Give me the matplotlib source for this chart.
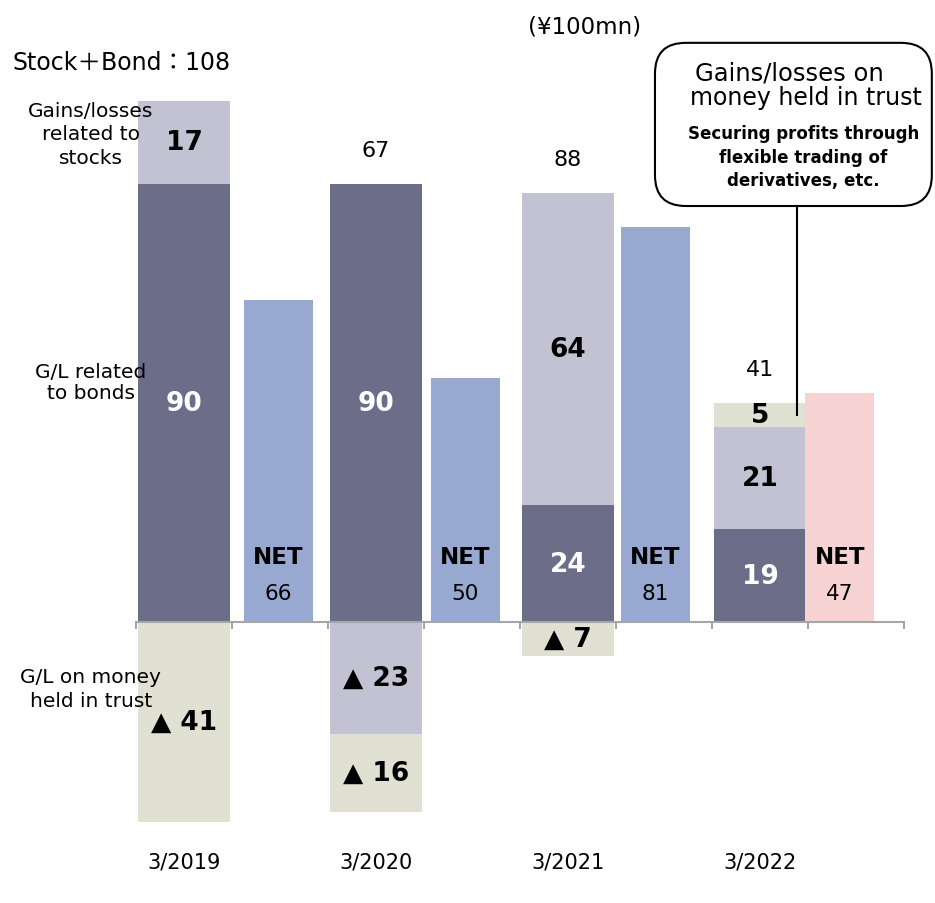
import matplotlib
matplotlib.use('Agg')
import matplotlib.pyplot as plt
from matplotlib.patches import FancyBboxPatch

# values in ¥100mn
years = ['3/2019', '3/2020', '3/2021', '3/2022']
bond = [90, 90, 24, 19]
stock = [17, -23, 64, 21]
trust = [-41, -16, -7, 5]
totals = [108, 67, 88, 41]
net = [66, 50, 81, 47]

C_BOND = '#6b6d89'
C_STOCK = '#c2c2d2'
C_TRUST = '#e0e1d3'
C_NET = '#97a8d1'
C_NET_LAST = '#f7d2d3'
C_AXIS = '#a6a6a6'

# horizontal nudges of the NET bars, in category units
net_offset = [-0.02, -0.07, -0.09, -0.17]
FONT = ['DejaVu Sans', 'Noto Sans CJK JP']

fig = plt.figure(figsize=(9.35, 9.04), dpi=100)
ax = fig.add_axes([0, 0, 1, 1])
ax.set_xlim(-1.917, 7.823)
ax.set_ylim(-57.7, 127.9)

for sp in ['top', 'left', 'right']:
    ax.spines[sp].set_visible(False)
ax.spines['bottom'].set_position(('data', 0))
ax.spines['bottom'].set_bounds(-0.5, 7.5)
ax.spines['bottom'].set_color(C_AXIS)
ax.spines['bottom'].set_linewidth(1.5)
ax.spines['bottom'].set_zorder(5)
ax.set_xticks([i - 0.5 for i in range(9)])
ax.set_xticklabels([])
ax.tick_params(axis='x', direction='out', length=5, width=1.5, color=C_AXIS)
ax.set_yticks([])

w_stack = 0.958
w_net = 0.72

for i, yr in enumerate(years):
    x = 2 * i
    pos_base, neg_base = 0, 0
    segs = [(bond[i], C_BOND, 'white'), (stock[i], C_STOCK, 'black'),
            (trust[i], C_TRUST, 'black')]
    for v, col, tcol in segs:
        if v >= 0:
            bottom = pos_base
            pos_base += v
        else:
            bottom = neg_base
            neg_base += v
        ax.bar(x, v, w_stack, bottom=bottom, color=col, zorder=1)
        lab = str(v) if v >= 0 else '▲ %d' % -v
        ax.text(x, bottom + v / 2, lab, ha='center', va='center',
                fontsize=19, fontweight='bold', color=tcol, zorder=6)

    # total of the stack
    if i == 0:
        ax.text(-1.79, pos_base + 8, 'Stock＋Bond：%d' % totals[i],
                ha='left', va='center', fontsize=17, family=FONT)
    else:
        ax.text(x, pos_base + 7, str(totals[i]), ha='center', va='center',
                fontsize=16)

    # NET bar
    xn = x + 1 + net_offset[i]
    ncol = C_NET_LAST if i == len(years) - 1 else C_NET
    ax.bar(xn, net[i], w_net, color=ncol, zorder=1)
    ax.text(xn, 13.5, 'NET', ha='center', va='center', fontsize=16.5,
            fontweight='bold', zorder=6)
    ax.text(xn, 6, str(net[i]), ha='center', va='center', fontsize=15.5,
            zorder=6)

    ax.text(x, -49.1, yr, ha='center', va='center', fontsize=15)

# row descriptions on the left
ax.text(-0.97, 100.2, 'Gains/losses\nrelated to\nstocks', ha='center',
        va='center', fontsize=14.5, linespacing=1.3, zorder=6)
ax.text(-0.97, 49.2, 'G/L related\nto bonds', ha='center', va='center',
        fontsize=14.5, linespacing=1.15, zorder=6)
ax.text(-0.97, -13.7, 'G/L on money\nheld in trust', ha='center',
        va='center', fontsize=14.5, linespacing=1.3, zorder=6)

ax.text(4.17, 122.3, '(¥100mn)', ha='center', va='center', fontsize=16.5)

# callout on the trust result of the last year
box_x0, box_x1 = 4.906, 7.79
box_y0, box_y1 = 85.4, 118.9
box = FancyBboxPatch((box_x0, box_y0), box_x1 - box_x0, box_y1 - box_y0,
                     boxstyle='round,pad=0,rounding_size=0.32',
                     mutation_aspect=96 / 4.87, fc='white', ec='black',
                     lw=1.5, zorder=7)
ax.add_patch(box)
last_top = bond[-1] + stock[-1] + trust[-1]
ax.plot([6.385, 6.385], [last_top - 2.5, box_y0], color='black', lw=1.5,
        zorder=7)
ax.text(6.31, 112.9, 'Gains/losses on', ha='center', va='center',
        fontsize=17.5, zorder=8)
ax.text(6.48, 107.8, 'money held in trust', ha='center', va='center',
        fontsize=17, zorder=8)
ax.text(6.45, 95.5, 'Securing profits through\nflexible trading of\n'
        'derivatives, etc.', ha='center', va='center', fontsize=12,
        fontweight='bold', linespacing=1.4, zorder=8)

fig.savefig('out.png', dpi=100)
